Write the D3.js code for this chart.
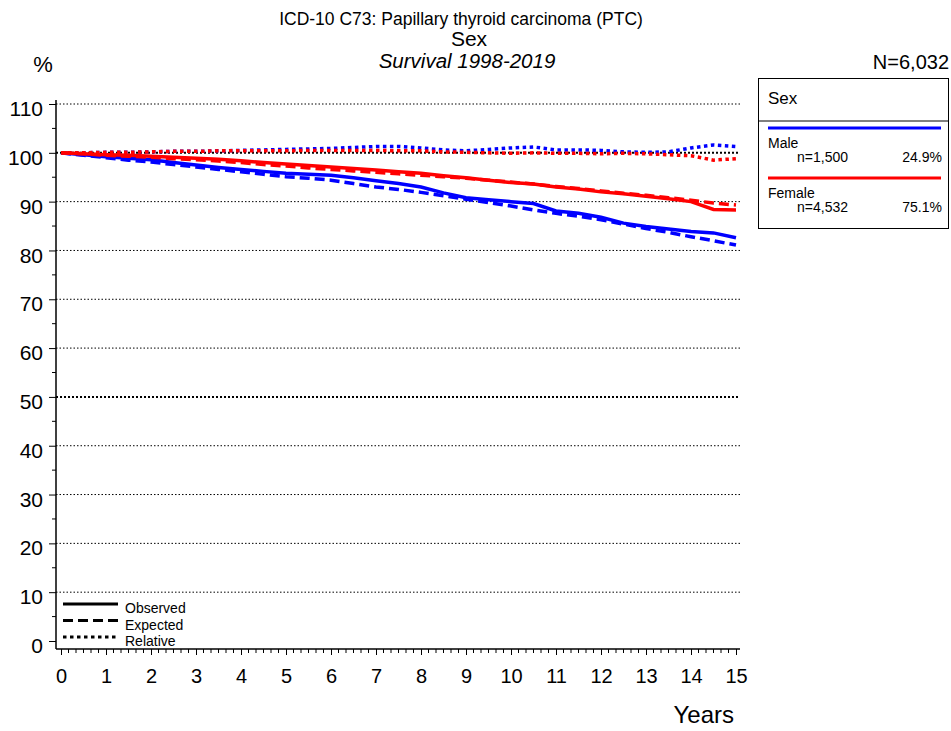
<!DOCTYPE html>
<html>
<head>
<meta charset="utf-8">
<script src="https://cdn.jsdelivr.net/npm/d3@7"></script>
<style>
    body { margin: 0; background: #fff; }
    svg { font-family: "Liberation Sans", Arial, sans-serif; }
</style>
</head>
<body>
<script>
// ----- Data -----

const years = [0, 0.5, 1, 1.5, 2, 2.5, 3, 3.5, 4, 4.5, 5, 5.5, 6, 6.5, 7, 7.5,
    8, 8.5, 9, 9.5, 10, 10.5, 11, 11.5, 12, 12.5, 13, 13.5, 14, 14.5, 15];

const maleObserved = [100, 99.6, 99.2, 98.9, 98.6, 98.0, 97.5, 97.0, 96.6, 96.2, 95.8, 95.6, 95.4, 94.9, 94.3, 93.7,
    93.0, 91.8, 90.8, 90.4, 90.0, 89.6, 88.1, 87.6, 86.8, 85.6, 84.9, 84.4, 83.9, 83.6, 82.6];
const maleExpected = [100, 99.5, 99.0, 98.5, 98.1, 97.6, 97.1, 96.6, 96.1, 95.6, 95.1, 94.8, 94.4, 93.7, 93.0, 92.5,
    91.9, 91.2, 90.5, 89.8, 89.1, 88.3, 87.6, 87.0, 86.3, 85.4, 84.5, 83.7, 82.8, 82.0, 81.1];
const maleRelative = [100, 100.0, 100.1, 100.1, 100.2, 100.3, 100.3, 100.4, 100.5, 100.6, 100.7, 100.8, 100.9, 101.1, 101.3, 101.3,
    101.0, 100.6, 100.4, 100.7, 101.0, 101.2, 100.6, 100.6, 100.5, 100.2, 100.1, 100.2, 101.0, 101.6, 101.3];

const femaleObserved = [100, 99.8, 99.6, 99.5, 99.3, 99.1, 98.9, 98.7, 98.4, 98.0, 97.7, 97.4, 97.1, 96.8, 96.5, 96.1,
    95.8, 95.3, 94.9, 94.4, 93.9, 93.6, 93.0, 92.6, 92.0, 91.6, 91.1, 90.6, 90.0, 88.4, 88.3];
const femaleExpected = [100, 99.8, 99.5, 99.3, 99.1, 98.8, 98.6, 98.3, 98.0, 97.6, 97.3, 96.9, 96.6, 96.3, 96.0, 95.7,
    95.4, 95.1, 94.8, 94.4, 94.0, 93.6, 93.1, 92.7, 92.2, 91.7, 91.3, 90.8, 90.3, 89.7, 89.3];
const femaleRelative = [100, 100.0, 100.1, 100.1, 100.2, 100.3, 100.3, 100.4, 100.4, 100.4, 100.4, 100.5, 100.5, 100.5, 100.5, 100.4,
    100.4, 100.2, 100.1, 100.0, 99.9, 100.0, 99.9, 99.9, 99.8, 99.9, 99.8, 99.6, 99.4, 98.5, 98.8];

const groups = ["Male", "Female"];
const groupCounts = ["n=1,500", "n=4,532"];
const groupShares = ["24.9%", "75.1%"];
const groupColors = ["#0000ff", "#ff0000"];

const lineKinds = ["Observed", "Expected", "Relative"];
const yTicks = [0, 10, 20, 30, 40, 50, 60, 70, 80, 90, 100, 110];
const xTicks = [0, 1, 2, 3, 4, 5, 6, 7, 8, 9, 10, 11, 12, 13, 14, 15];

const titleLines = ["ICD-10 C73: Papillary thyroid carcinoma (PTC)", "Sex", "Survival 1998-2019"];
const totalLabel = "N=6,032";

// ----- Main program -----

const width = 951, height = 731;
const dashFor = { Observed: null, Expected: "10,5", Relative: "3.5,3.5" };

const svg = d3.select("body").append("svg")
    .attr("width", width)
    .attr("height", height);

// Scales
const scaleX = d3.scaleLinear().domain([0, 15]).range([61, 736]);
const scaleY = d3.scaleLinear().domain([0, 110]).range([641, 104]);
const axisLeftX = 56, axisBottomY = 649, gridRight = 740;

// Titles
svg.append("text").text(titleLines[0])
    .attr("x", 461).attr("y", 25).attr("text-anchor", "middle").style("font-size", "17.5px");
svg.append("text").text(titleLines[1])
    .attr("x", 469).attr("y", 46).attr("text-anchor", "middle").style("font-size", "21px");
svg.append("text").text(titleLines[2])
    .attr("x", 467).attr("y", 68).attr("text-anchor", "middle")
    .style("font-size", "20.5px").style("font-style", "italic");
svg.append("text").text(totalLabel)
    .attr("x", 949).attr("y", 69).attr("text-anchor", "end").style("font-size", "20px");
svg.append("text").text("%")
    .attr("x", 43).attr("y", 72).attr("text-anchor", "middle").style("font-size", "22px");

// Gridlines
svg.append("g").selectAll("line")
    .data(yTicks.filter(d => d > 0))
    .enter()
    .append("line")
        .attr("x1", axisLeftX).attr("x2", gridRight)
        .attr("y1", d => scaleY(d)).attr("y2", d => scaleY(d))
        .attr("stroke", "#000")
        .attr("stroke-width", d => (d === 50 || d === 100) ? 2 : 1)
        .attr("stroke-dasharray", d => (d === 50 || d === 100) ? "2,2" : "1.5,2");

// Y axis
const leftAxis = d3.axisLeft(scaleY)
    .tickValues(yTicks)
    .tickSize(7)
    .tickPadding(6);
const yAxis = svg.append("g")
    .attr("transform", `translate(${axisLeftX}, 0)`)
    .call(leftAxis);
yAxis.select(".domain").remove();
yAxis.selectAll("text").style("font-size", "21px").attr("dy", "0.55em");
yAxis.append("line")
    .attr("y1", 100).attr("y2", axisBottomY).attr("stroke", "#000").attr("stroke-width", 1.5);
yAxis.selectAll(".minor")
    .data(d3.range(5, 110, 10))
    .enter()
    .append("line")
        .attr("x1", -4).attr("x2", 0)
        .attr("y1", d => scaleY(d)).attr("y2", d => scaleY(d))
        .attr("stroke", "#000");

// X axis
const bottomAxis = d3.axisBottom(scaleX)
    .tickValues(xTicks)
    .tickSize(6)
    .tickPadding(14);
const xAxis = svg.append("g")
    .attr("transform", `translate(0, ${axisBottomY})`)
    .call(bottomAxis);
xAxis.select(".domain").remove();
xAxis.selectAll("text").style("font-size", "20px");
xAxis.append("line")
    .attr("x1", axisLeftX).attr("x2", gridRight).attr("stroke", "#000").attr("stroke-width", 1.5);
xAxis.selectAll(".minor")
    .data(d3.range(0, 15, 1 / 6).filter(d => Math.abs(d - Math.round(d)) > 0.01))
    .enter()
    .append("line")
        .attr("x1", d => scaleX(d)).attr("x2", d => scaleX(d))
        .attr("y1", 0).attr("y2", 4)
        .attr("stroke", "#000");

svg.append("text").text("Years")
    .attr("x", 734).attr("y", 723).attr("text-anchor", "end").style("font-size", "24px");

// Survival curves
const series = [
    { color: groupColors[0], kind: "Observed", values: maleObserved },
    { color: groupColors[0], kind: "Expected", values: maleExpected },
    { color: groupColors[0], kind: "Relative", values: maleRelative },
    { color: groupColors[1], kind: "Observed", values: femaleObserved },
    { color: groupColors[1], kind: "Expected", values: femaleExpected },
    { color: groupColors[1], kind: "Relative", values: femaleRelative }
];
const line = d3.line()
    .x((d, i) => scaleX(years[i]))
    .y(d => scaleY(d));

svg.append("g").selectAll("path")
    .data(series)
    .enter()
    .append("path")
        .attr("d", d => line(d.values))
        .attr("fill", "none")
        .attr("stroke", d => d.color)
        .attr("stroke-width", 3.5)
        .attr("stroke-dasharray", d => dashFor[d.kind]);

// Line style legend (bottom left)
const styleLegend = svg.append("g");
lineKinds.forEach((kind, i) => {
    const y = 604 + i * 16.5;
    styleLegend.append("line")
        .attr("x1", 63).attr("x2", 118).attr("y1", y).attr("y2", y)
        .attr("stroke", "#000").attr("stroke-width", 3)
        .attr("stroke-dasharray", dashFor[kind]);
    styleLegend.append("text").text(kind)
        .attr("x", 125).attr("y", y + 9).style("font-size", "14px");
});

// Group legend box (right)
const legend = svg.append("g");
legend.append("rect")
    .attr("x", 758.5).attr("y", 78.5).attr("width", 190).attr("height", 150)
    .attr("fill", "none").attr("stroke", "#000");
legend.append("line")
    .attr("x1", 758.5).attr("x2", 948.5).attr("y1", 121).attr("y2", 121).attr("stroke", "#000");
legend.append("text").text("Sex")
    .attr("x", 768).attr("y", 104).style("font-size", "17px");
groups.forEach((g, i) => {
    const y0 = 128 + i * 50;
    legend.append("line")
        .attr("x1", 768).attr("x2", 941).attr("y1", y0).attr("y2", y0)
        .attr("stroke", groupColors[i]).attr("stroke-width", 3);
    legend.append("text").text(g)
        .attr("x", 768).attr("y", y0 + 20).style("font-size", "14px");
    legend.append("text").text(groupCounts[i])
        .attr("x", 797).attr("y", y0 + 34).style("font-size", "14px");
    legend.append("text").text(groupShares[i])
        .attr("x", 942).attr("y", y0 + 34).attr("text-anchor", "end").style("font-size", "14px");
});
</script>
</body>
</html>
